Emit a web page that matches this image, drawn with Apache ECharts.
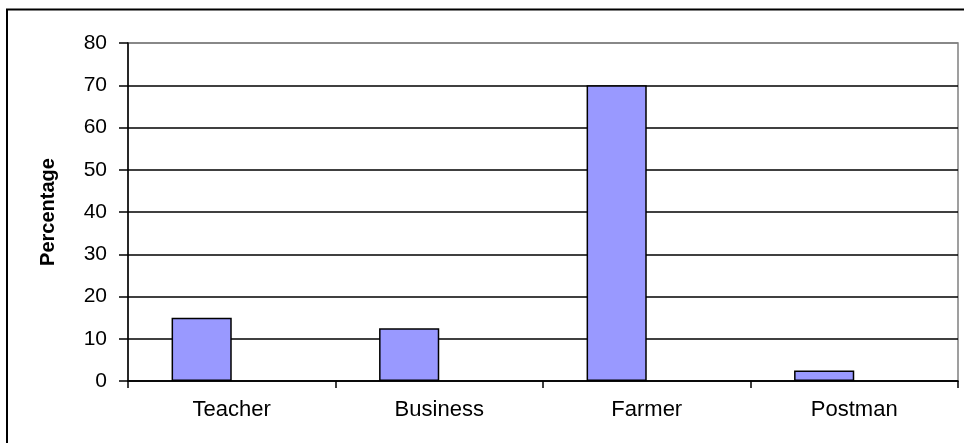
<!DOCTYPE html>
<html>
<head>
<meta charset="utf-8">
<script src="https://cdn.jsdelivr.net/npm/echarts@6/dist/echarts.min.js"></script>
<style>
html,body{margin:0;padding:0;background:#fff;}
#chart{width:964px;height:443px;}
</style>
</head>
<body>
<div id="chart"></div>
<script>
const categories = ['Teacher', 'Business', 'Farmer', 'Postman'];
const percentages = [15, 12.5, 70, 2.5];
const emptySeries = [];
const yTicks = { min: 0, max: 80, interval: 10 };
const axisTitle = 'Percentage';

const chart = echarts.init(document.getElementById('chart'), null, { renderer: 'canvas' });
const FONT = '"Liberation Sans", Arial, sans-serif';
const gridColors = [];
for (let v = yTicks.min; v <= yTicks.max; v += yTicks.interval) {
  gridColors.push(v === yTicks.max ? '#808080' : '#000000');
}

chart.setOption({
  animation: false,
  backgroundColor: '#ffffff',
  graphic: [{
    type: 'rect',
    shape: { x: 7, y: 9.5, width: 1100, height: 1000 },
    style: { fill: 'none', stroke: '#000', lineWidth: 2 },
    silent: true
  }],
  grid: {
    left: 128, right: 6, top: 43, bottom: 62,
    show: true, borderColor: '#808080', borderWidth: 1.5, backgroundColor: 'transparent'
  },
  xAxis: {
    type: 'category',
    data: categories,
    axisLine: { lineStyle: { color: '#000', width: 1.5 } },
    axisTick: { show: true, length: 7, lineStyle: { color: '#000', width: 1.5 } },
    axisLabel: { color: '#000', fontFamily: FONT, fontSize: 22, margin: 18 },
    splitLine: { show: false }
  },
  yAxis: {
    type: 'value',
    min: yTicks.min, max: yTicks.max, interval: yTicks.interval,
    name: axisTitle,
    nameLocation: 'middle',
    nameGap: 70,
    nameRotate: 90,
    nameTextStyle: { color: '#000', fontFamily: FONT, fontSize: 20, fontWeight: 'bold' },
    axisLine: { show: true, lineStyle: { color: '#000', width: 1.5 } },
    axisTick: { show: true, length: 9, lineStyle: { color: '#000', width: 1.5 } },
    axisLabel: { color: '#000', fontFamily: FONT, fontSize: 21, margin: 21 },
    splitLine: { show: true, lineStyle: { color: gridColors, width: 1.5 } }
  },
  series: [{
    type: 'bar',
    data: percentages,
    barGap: '0%',
    barCategoryGap: '42%',
    itemStyle: { color: '#9999FF', borderColor: '#000', borderWidth: 1.5 }
  }, {
    type: 'bar',
    data: emptySeries,
    barGap: '0%',
    barCategoryGap: '42%',
    itemStyle: { color: '#993366', borderColor: '#000', borderWidth: 1.5 }
  }]
});
</script>
</body>
</html>
